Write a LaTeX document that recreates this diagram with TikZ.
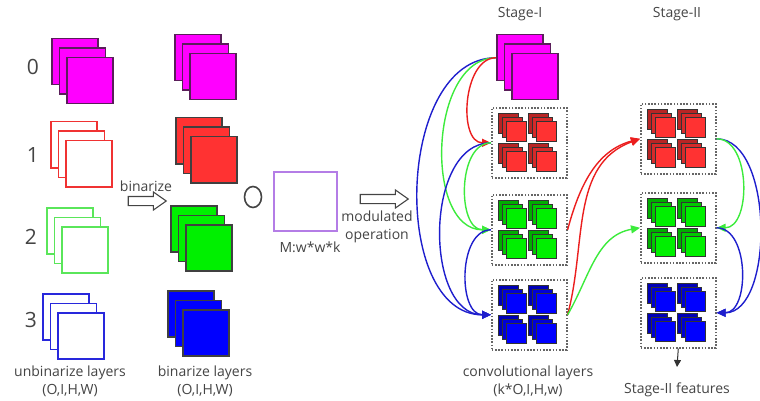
\documentclass[tikz,border=0pt]{standalone}
\usepackage{fontspec}
\setmainfont{Open Sans}
\usetikzlibrary{arrows.meta,shapes.arrows,shapes.geometric}

\definecolor{txt}{RGB}{68,68,68}
\definecolor{magf}{RGB}{255,0,255}
\definecolor{magline}{RGB}{90,30,90}
\definecolor{redf}{RGB}{255,50,50}
\definecolor{redline}{RGB}{240,50,50}
\definecolor{greenf}{RGB}{0,240,0}
\definecolor{greenline}{RGB}{90,230,90}
\definecolor{bluef}{RGB}{0,0,255}
\definecolor{blueline}{RGB}{40,40,220}
\definecolor{purp}{RGB}{180,125,230}
\definecolor{arrred}{RGB}{235,30,30}
\definecolor{arrgreen}{RGB}{60,235,60}
\definecolor{arrblue}{RGB}{30,30,205}

\begin{document}
\begin{tikzpicture}[
        x=1pt, y=-1pt,
        sq/.style={line width=1.5pt, minimum size=46pt, inner sep=0pt, anchor=north west},
        msq/.style={draw=black!80, line width=1.1pt, minimum size=20pt, inner sep=0pt, anchor=north west},
        grp/.style={draw=black!60, line width=1.6pt, dash pattern=on 1.6pt off 1.6pt, minimum width=75pt, minimum height=70pt, inner sep=0pt, anchor=north west},
        lbl/.style={text=txt, font=\fontsize{14}{18}\selectfont, align=center, inner sep=0pt},
        num/.style={text=txt, font=\fontsize{21}{24}\selectfont, inner sep=0pt},
        link/.style={line width=1.4pt, -{Triangle[length=9pt,width=8pt]}},
        hollow/.style={single arrow, draw=txt, line width=1.1pt, minimum height=38pt, inner xsep=0pt, inner ysep=4pt, single arrow head extend=4.5pt, single arrow tip angle=70}
    ]
    \useasboundingbox (0,0) rectangle (760,401);

    % layer numbers
    \node[num] (n0) at (33,67) {0};
    \node[num] (n1) at (33,155) {1};
    \node[num] (n2) at (31,237) {2};
    \node[num] (n3) at (31,320) {3};

    % unbinarize layers
    \foreach \n/\x/\y/\col/\fil in {u0/51/38/magline/magf, u1/50/121/redline/white,
                                    u2/46/207/greenline/white, u3/42/293/blueline/white}
        \foreach \i in {0,1,2}
            \node[sq, draw=\col, fill=\fil] (\n-\i) at (\x+7.5*\i, \y+9.5*\i) {};

    % binarize layers
    \foreach \n/\x/\y/\col/\fil in {b0/174/34/magline/magf, b1/175/117/black!75/redf,
                                    b2/170/205/black!75/greenf, b3/167/290/black!75/bluef}
        \foreach \i in {0,1,2}
            \node[sq, draw=\col, fill=\fil] (\n-\i) at (\x+7.5*\i, \y+9.5*\i) {};

    \node[lbl] (ulbl) at (70,381) {unbinarize layers\\(O,I,H,W)};
    \node[lbl] (blbl) at (205,381) {binarize layers\\(O,I,H,W)};

    \node[lbl] (binlbl) at (146,186) {binarize};
    \node[hollow] (bin) at (144,201) {};

    % modulation filter
    \node[ellipse, draw=txt, line width=1.6pt, minimum width=17pt, minimum height=21pt, inner sep=0pt] (op) at (253,197) {};
    \node[draw=purp, line width=1.6pt, minimum width=63pt, minimum height=59pt, anchor=north west] (mbox) at (273,171) {};
    \node[lbl] (mlbl) at (310,247) {M:w*w*k};

    \node[hollow, minimum height=48pt] (mod) at (381,199) {};
    \node[lbl] (modlbl) at (377,227) {modulated\\operation};

    % stages
    \node[lbl] (st1) at (520,14) {Stage-I};
    \node[lbl] (st2) at (677,14) {Stage-II};

    \foreach \i in {0,1,2}
        \node[sq, draw=magline, fill=magf] (s0-\i) at (496+7.5*\i, 34+9.5*\i) {};

    \node[grp] (g1r) at (491,107) {};
    \node[grp] (g1g) at (491,194) {};
    \node[grp] (g1b) at (491,279) {};
    \node[grp] (g2r) at (640,103) {};
    \node[grp] (g2g) at (640,192) {};
    \node[grp] (g2b) at (640,277) {};

    \foreach \g/\fil in {g1r/redf, g1g/greenf, g1b/bluef, g2r/redf, g2g/greenf, g2b/bluef}
        \foreach \dx/\dy in {7/6, 37/6, 7/36, 37/36}
            \foreach \i/\shade in {0/72, 1/84, 2/100}
                \node[msq, fill=\fil!\shade!black] (\g-\dx-\dy-\i) at ([shift={(\dx+4*\i,\dy+4*\i)}]\g.north west) {};

    \node[lbl] (clbl) at (528,381) {convolutional layers\\(k*O,I,H,w)};

    % connections
    \draw[link, arrblue] (s0-0.west) to[out=180, in=180] (g1b.west);
    \draw[link, arrgreen] (s0-0.west) to[out=180, in=180] (g1g.west);
    \draw[link, arrred] (s0-0.west) to[out=180, in=180] (g1r.west);
    \draw[link, arrblue] (g1r.west) to[out=180, in=180] (g1b.west);
    \draw[link, arrgreen] (g1r.west) to[out=180, in=180] (g1g.west);
    \draw[link, arrblue] (g1g.west) to[out=180, in=180] (g1b.west);

    \draw[link, arrred] (g1g.east) to[out=75, in=195] (g2r.west);
    \draw[link, arrred] (g1b.east) to[out=75, in=200] (g2r.west);
    \draw[link, arrgreen] (g1b.east) to[out=60, in=190] (g2g.west);

    \draw[link, arrblue] (g2r.east) to[out=0, in=0, looseness=0.85] (g2b.east);
    \draw[link, arrgreen] (g2r.east) to[out=0, in=0] (g2g.east);
    \draw[link, arrblue] (g2g.east) to[out=0, in=0] (g2b.east);

    \coordinate (featend) at (677,367);
    \draw[-{Triangle[length=7pt,width=7pt]}, black!80, line width=1pt] (g2b.south) -- (featend);
    \node[lbl] (feat) at (677,390) {Stage-II features};
\end{tikzpicture}
\end{document}
